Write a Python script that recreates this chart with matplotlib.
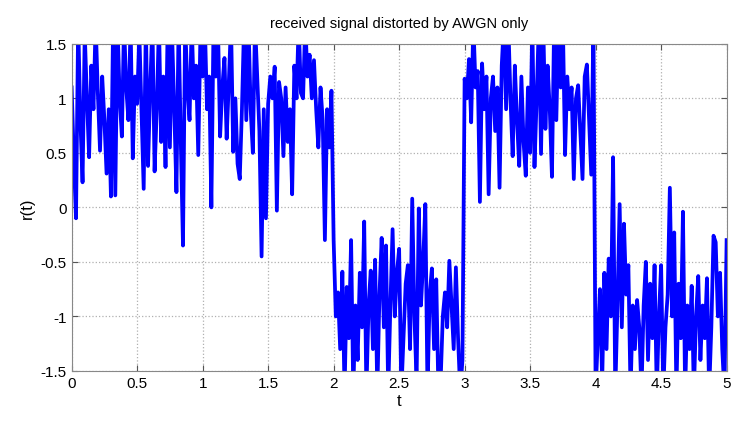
import numpy as np
import matplotlib
matplotlib.use("Agg")
import matplotlib.pyplot as plt

# sample values, 60 samples per time unit
seg_0_1 = [1.1, 0.45, -0.1, 1.7, 0.8, 0.23, 1.6, 1.0, 0.46, 1.3,
           0.9, 1.7, 1.05, 0.52, 1.2, 0.8, 0.31, 0.9, 0.1, 1.7,
           0.11, 1.7, 1.0, 0.65, 1.7, 1.1, 0.8, 1.7, 0.45, 1.2,
           0.95, 1.6, 0.9, 0.17, 1.7, 0.38, 1.1, 1.7, 0.33, 0.9,
           1.7, 0.6, 1.2, 0.37, 1.7, 0.55, 1.6, 0.9, 0.14, 1.7,
           0.6, -0.35, 1.7, 1.1, 0.8, 1.7, 1.0, 1.3, 0.48, 1.6]
seg_1_2 = [1.2, 1.7, 0.9, 1.2, 0.0, 1.7, 1.2, 1.7, 0.65, 1.1,
           1.37, 0.63, 1.15, 1.7, 0.51, 1.0, 0.4, 0.26, 0.9, 1.7,
           0.8, 1.7, 0.9, 0.5, 1.7, 1.2, 0.7, -0.45, 0.9, -0.1,
           0.95, 1.2, 1.0, 1.29, -0.03, 1.15, 1.0, 0.47, 1.1, 0.6,
           0.9, 0.12, 1.3, 1.0, 1.7, 1.05, 1.0, 1.7, 1.2, 1.4,
           1.0, 1.35, 0.9, 0.55, 1.1, 0.8, -0.3, 0.9, 0.55, 1.07]
seg_2_3 = [-0.3, -1.0, -0.78, -1.3, -0.59, -1.7, -0.73, -1.2, -0.3, -1.7,
           -0.9, -1.4, -0.6, -1.1, -0.13, -1.7, -0.9, -0.58, -1.3, -0.48,
           -1.7, -0.8, -0.28, -1.1, -0.35, -1.7, -0.9, -0.2, -1.0, -0.6,
           -0.38, -1.7, -1.2, -0.7, -0.53, -1.3, 0.08, -1.0, -1.6, -0.01,
           -0.9, -0.5, 0.03, -1.7, -0.8, -0.56, -1.3, -0.66, -1.7, -1.6,
           -1.0, -0.78, -1.1, -0.49, -0.9, -1.3, -0.55, -1.2, -1.7, -1.4]
seg_3_4 = [1.18, 1.0, 1.36, 0.78, 1.7, 1.1, 1.25, 0.05, 1.32, 0.9,
           1.2, 0.12, 1.0, 1.2, 0.7, 1.1, 0.18, 1.3, 1.7, 0.9,
           1.7, 1.0, 0.47, 1.3, 0.8, 0.38, 1.2, 0.6, 0.29, 1.1,
           0.5, 1.7, 0.37, 1.0, 1.7, 0.49, 1.7, 0.72, 1.3, 0.9,
           0.28, 1.7, 0.8, 1.7, 1.1, 1.7, 0.48, 1.2, 0.9, 1.1,
           0.26, 1.0, 1.12, 0.7, 0.26, 1.2, 1.31, 0.8, 0.3, 1.7]
seg_4_5 = [-1.7, -1.2, -0.75, -1.6, -0.6, -1.3, -0.47, -1.0, 0.46, -1.7,
           -0.9, 0.03, -1.1, -0.15, -0.8, -0.53, -1.7, -0.9, -1.3, -0.85,
           -1.1, -1.7, -0.9, -0.5, -1.4, -0.7, -1.2, -0.53, -1.7, -1.0,
           -0.53, -1.7, -1.1, -0.8, 0.18, -1.0, -0.23, -1.7, -0.7, -1.2,
           -0.04, -1.7, -0.9, -1.3, -0.72, -1.7, -1.0, -0.63, -1.4, -0.9,
           -1.2, -0.65, -1.7, -1.1, -0.26, -0.32, -1.0, -0.6, -1.3, -1.7,
           -0.3]

r = np.array(seg_0_1 + seg_1_2 + seg_2_3 + seg_3_4 + seg_4_5)
t = np.linspace(0, 5, len(r))

x_ticks = [0, 0.5, 1, 1.5, 2, 2.5, 3, 3.5, 4, 4.5, 5]
y_ticks = [-1.5, -1, -0.5, 0, 0.5, 1, 1.5]

plt.rcParams["font.family"] = ["Liberation Sans", "DejaVu Sans"]

fig = plt.figure(figsize=(7.31, 4.27), dpi=100)
ax = fig.add_axes([0.098, 0.129, 0.896, 0.766])

ax.plot(t, r, color="#0000ff", linewidth=2.7)

ax.set_xlim(0, 5)
ax.set_ylim(-1.5, 1.5)
ax.set_xticks(x_ticks)
ax.set_xticklabels([f"{v:g}" for v in x_ticks])
ax.set_yticks(y_ticks)
ax.set_yticklabels([f"{v:g}" for v in y_ticks])
ax.grid(True, linestyle=":", color="#b0b0b0", linewidth=0.9)
ax.tick_params(direction="in", top=True, right=True, labelsize=11, length=4,
               color="#555555")
for s in ax.spines.values():
    s.set_color("#888888")

ax.set_title("received signal distorted by AWGN only", fontsize=10.5, pad=12)
ax.set_xlabel("t", fontsize=12, labelpad=2)
ax.set_ylabel("r(t)", fontsize=12, labelpad=4)

fig.savefig("out.png", dpi=100)
